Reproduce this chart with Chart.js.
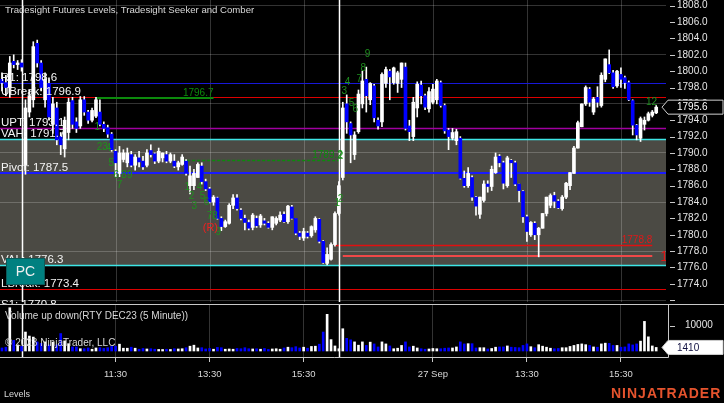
<!DOCTYPE html>
<html>
<head>
<meta charset="utf-8">
<script src="https://cdn.jsdelivr.net/npm/chart.js@4.4.0/dist/chart.umd.min.js"></script>
<style>
body { margin: 0; background: #000; width: 724px; height: 403px; overflow: hidden; position: relative; font-family: Arial, "Liberation Sans", sans-serif; }
#price { position: absolute; left: 0; top: 0; }
#vol { position: absolute; left: 0; top: 304px; }
.t { position: absolute; color: #d8d8d8; font-size: 10px; line-height: 12px; white-space: nowrap; }
#pc { position: absolute; left: 6px; top: 258px; width: 37px; height: 25px; background: #008080; border: 1px solid #0b5a5a; color: #f0f0f0; font-size: 14px; line-height: 25px; text-align: center; }
#logo { position: absolute; left: 611px; top: 385px; color: #e5532d; font-weight: bold; font-size: 14px; letter-spacing: 1px; white-space: nowrap; }
</style>
</head>
<body>
<canvas id="price" width="724" height="304"></canvas>
<canvas id="vol" width="724" height="99"></canvas>
<div class="t" style="left:5px;top:4px;font-size:9.6px">Tradesight Futures Levels, Tradesight Seeker and Comber</div>
<div class="t" style="left:5px;top:310px">Volume up down(RTY DEC23 (5 Minute))</div>
<div class="t" style="left:5px;top:337px">© 2023 NinjaTrader, LLC</div>
<div class="t" style="left:4px;top:388px;font-size:9px">Levels</div>
<div id="pc">PC</div>
<div id="logo">NINJATRADER</div>
<script>
// --- data -------------------------------------------------------------
const prevDayTimes = ['15:50', '15:55', '16:00', '16:05', '16:10', '16:15'];

const opens = [
    1799.0, 1798.6, 1798.0, 1801.2, 1800.8, 1801.0, 1788.5, 1795.0, 1796.5, 1803.4,
    1801.0, 1796.5, 1798.5, 1793.5, 1795.5, 1792.0, 1790.5, 1792.5, 1796.4, 1793.8,
    1793.3, 1796.5, 1795.0, 1794.0, 1794.5, 1795.0, 1793.5, 1793.1, 1792.3, 1790.2,
    1787.5, 1789.2, 1788.8, 1789.8, 1788.5, 1789.4, 1789.0, 1788.5, 1790.3, 1789.9,
    1789.0, 1789.4, 1789.8, 1789.0, 1789.0, 1788.3, 1788.6, 1789.0, 1786.0, 1786.0,
    1787.0, 1788.4, 1786.5, 1785.6, 1784.0, 1784.5, 1782.0, 1781.0, 1781.4, 1783.6,
    1784.5, 1783.0, 1782.0, 1781.5, 1780.9, 1782.0, 1781.2, 1781.7, 1781.4, 1780.9,
    1781.4, 1781.8, 1782.5, 1781.6, 1783.4, 1782.0, 1780.2, 1779.6, 1780.2, 1779.9,
    1780.6, 1781.9, 1779.2, 1776.5, 1777.0, 1778.8, 1782.6, 1787.0, 1796.0, 1793.6,
    1789.8, 1792.6, 1796.0, 1799.0, 1796.5, 1798.2, 1794.0, 1793.8, 1798.5, 1800.0,
    1798.6, 1798.5, 1799.0, 1800.5, 1793.3, 1792.0, 1795.5, 1798.3, 1797.0, 1795.4,
    1796.2, 1796.5, 1798.6, 1795.8, 1792.8, 1791.8, 1791.5, 1791.8, 1786.9, 1786.0,
    1787.0, 1784.6, 1782.5, 1784.2, 1786.2, 1785.9, 1787.6, 1789.6, 1788.8, 1786.0,
    1789.1, 1788.8, 1786.2, 1785.3, 1782.2, 1780.0, 1781.4, 1780.0, 1780.8, 1782.6,
    1783.6, 1784.8, 1784.1, 1783.2, 1784.6, 1786.0, 1787.5, 1790.6, 1793.2, 1796.0,
    1797.8, 1795.0, 1796.8, 1795.8, 1799.0, 1800.8, 1799.8, 1798.2, 1799.6, 1799.2,
    1798.6, 1796.4, 1793.4, 1791.8, 1793.5, 1794.0, 1794.6, 1794.9
];
const highs = [
    1799.8, 1799.5, 1801.8, 1802.0, 1801.3, 1801.4, 1796.5, 1797.7, 1803.6, 1803.8,
    1801.3, 1799.8, 1799.2, 1796.8, 1796.2, 1792.5, 1794.4, 1796.7, 1796.8, 1794.3,
    1796.9, 1796.9, 1795.2, 1795.5, 1796.8, 1796.5, 1793.8, 1793.4, 1792.5, 1790.4,
    1790.8, 1790.4, 1790.6, 1790.2, 1789.8, 1790.2, 1789.6, 1790.4, 1791.0, 1790.0,
    1790.6, 1790.0, 1790.2, 1790.0, 1789.8, 1789.0, 1789.8, 1789.2, 1788.4, 1788.0,
    1788.8, 1788.8, 1786.8, 1785.8, 1784.8, 1784.6, 1782.2, 1781.8, 1783.8, 1784.9,
    1784.9, 1783.2, 1782.4, 1781.8, 1782.6, 1782.3, 1782.5, 1782.0, 1781.6, 1782.2,
    1782.2, 1782.8, 1782.8, 1783.6, 1783.6, 1782.0, 1780.4, 1780.8, 1780.4, 1781.1,
    1782.2, 1782.0, 1779.3, 1778.4, 1779.0, 1782.8, 1786.5, 1796.2, 1797.1, 1793.8,
    1792.6, 1797.7, 1800.0, 1800.5, 1798.6, 1798.4, 1794.3, 1799.8, 1800.5, 1800.2,
    1800.5, 1800.0, 1801.0, 1801.0, 1794.0, 1796.8, 1798.7, 1798.8, 1797.2, 1798.0,
    1798.4, 1799.0, 1798.8, 1796.0, 1793.0, 1793.0, 1792.9, 1792.0, 1787.8, 1788.2,
    1787.2, 1784.7, 1784.6, 1786.6, 1786.6, 1788.4, 1790.0, 1789.8, 1789.0, 1789.6,
    1789.2, 1789.0, 1786.2, 1785.4, 1782.4, 1781.6, 1781.6, 1780.9, 1782.6, 1784.6,
    1785.0, 1785.2, 1784.3, 1784.8, 1786.4, 1787.6, 1790.8, 1793.9, 1796.0, 1798.2,
    1798.0, 1796.8, 1798.1, 1799.8, 1801.5, 1802.6, 1800.1, 1800.1, 1800.4, 1799.4,
    1798.8, 1796.5, 1793.5, 1794.4, 1794.4, 1795.0, 1795.2, 1795.8
];
const lows = [
    1797.6, 1797.0, 1796.8, 1800.4, 1800.2, 1800.0, 1787.4, 1794.4, 1795.6, 1800.5,
    1797.6, 1795.6, 1794.0, 1792.4, 1791.0, 1789.8, 1789.5, 1791.6, 1793.0, 1792.5,
    1793.0, 1794.6, 1793.6, 1793.8, 1794.3, 1793.3, 1792.6, 1791.9, 1790.2, 1787.1,
    1787.1, 1788.9, 1788.3, 1788.3, 1787.9, 1788.3, 1788.0, 1788.3, 1789.5, 1788.7,
    1788.8, 1788.9, 1788.8, 1788.8, 1788.2, 1787.9, 1788.5, 1787.3, 1785.0, 1785.5,
    1787.0, 1786.2, 1785.4, 1783.9, 1783.6, 1781.9, 1780.5, 1780.9, 1781.3, 1783.2,
    1783.0, 1781.8, 1780.6, 1780.6, 1780.6, 1780.9, 1780.9, 1781.2, 1780.8, 1780.6,
    1781.2, 1781.6, 1781.5, 1781.4, 1781.9, 1780.0, 1779.4, 1779.3, 1779.6, 1779.7,
    1780.3, 1779.0, 1776.5, 1776.3, 1776.9, 1778.6, 1782.4, 1786.7, 1792.4, 1788.8,
    1789.2, 1792.4, 1795.5, 1795.0, 1795.9, 1793.8, 1792.9, 1793.2, 1798.0, 1796.5,
    1798.4, 1797.4, 1798.0, 1792.8, 1791.5, 1791.5, 1794.4, 1796.0, 1795.3, 1795.0,
    1796.0, 1796.0, 1795.6, 1792.4, 1790.4, 1791.6, 1791.0, 1786.8, 1785.8, 1785.8,
    1784.2, 1782.4, 1782.0, 1784.0, 1785.2, 1785.4, 1787.5, 1788.3, 1785.6, 1785.8,
    1787.0, 1786.0, 1784.0, 1781.5, 1779.2, 1779.8, 1779.4, 1777.3, 1780.8, 1782.3,
    1783.3, 1783.3, 1783.2, 1783.0, 1784.4, 1785.5, 1787.5, 1790.6, 1793.2, 1795.8,
    1795.7, 1794.7, 1795.6, 1795.6, 1798.7, 1799.7, 1797.9, 1798.0, 1798.0, 1797.9,
    1796.4, 1792.2, 1791.6, 1791.4, 1792.8, 1793.9, 1794.4, 1794.8
];
const closes = [
    1798.6, 1798.0, 1801.0, 1800.8, 1801.0, 1800.5, 1795.5, 1797.0, 1803.0, 1801.0,
    1798.0, 1799.0, 1794.4, 1796.0, 1791.6, 1791.0, 1794.0, 1796.2, 1793.5, 1793.0,
    1796.5, 1795.0, 1794.0, 1795.2, 1796.5, 1793.5, 1793.0, 1792.3, 1790.4, 1788.8,
    1790.0, 1790.0, 1790.0, 1788.5, 1789.5, 1788.9, 1788.3, 1790.0, 1789.8, 1789.0,
    1790.2, 1790.0, 1789.0, 1789.8, 1788.4, 1788.8, 1789.5, 1787.5, 1787.2, 1787.5,
    1788.6, 1786.5, 1785.6, 1784.0, 1784.6, 1782.0, 1781.0, 1781.6, 1783.6, 1784.5,
    1783.2, 1782.0, 1781.5, 1780.8, 1782.4, 1781.1, 1782.3, 1781.4, 1780.9, 1782.2,
    1782.0, 1782.4, 1781.6, 1783.5, 1782.0, 1780.2, 1779.8, 1780.4, 1779.8, 1781.0,
    1782.0, 1779.2, 1776.6, 1777.6, 1778.8, 1782.6, 1786.0, 1795.5, 1793.8, 1792.2,
    1792.2, 1797.2, 1798.8, 1797.0, 1798.5, 1794.3, 1793.3, 1799.6, 1800.2, 1799.3,
    1800.4, 1799.8, 1801.0, 1793.0, 1792.6, 1796.2, 1798.4, 1797.0, 1795.6, 1797.5,
    1797.8, 1798.8, 1795.8, 1792.7, 1792.0, 1792.5, 1792.6, 1786.9, 1786.0, 1787.5,
    1784.6, 1783.5, 1784.6, 1786.2, 1785.9, 1788.0, 1789.5, 1788.8, 1786.3, 1789.4,
    1788.8, 1786.2, 1785.4, 1782.2, 1780.4, 1781.5, 1780.0, 1780.8, 1782.6, 1784.6,
    1784.8, 1784.1, 1783.3, 1784.6, 1786.3, 1787.6, 1790.6, 1793.7, 1796.0, 1798.0,
    1796.2, 1796.6, 1796.2, 1799.5, 1801.5, 1799.8, 1798.1, 1800.0, 1799.0, 1798.6,
    1796.5, 1793.4, 1792.2, 1794.2, 1794.0, 1794.8, 1795.0, 1795.6
];
const volumes = [
    1200, 1500, 17100, 4200, 2400, 1800, 7500, 5900, 5500, 3600,
    3000, 3600, 2400, 3500, 2400, 6900, 4000, 2900, 1600, 1600,
    900, 900, 1200, 700, 1200, 1300, 1000, 1300, 1800, 1900,
    2700, 1100, 1100, 1500, 1100, 700, 1000, 800, 900, 700,
    600, 600, 700, 600, 900, 800, 900, 1300, 1900, 2300,
    1200, 1300, 800, 1000, 700, 1400, 1300, 700, 800, 700,
    1000, 900, 1300, 900, 800, 900, 700, 1000, 600, 800,
    900, 700, 1200, 1500, 1300, 1700, 1200, 1500, 1100, 1800,
    1900, 2700, 7500, 14500, 4500, 2000, 900, 8800, 5000, 4400,
    3600, 2300, 3600, 2200, 3500, 2800, 1600, 3600, 2800, 2000,
    900, 1100, 2200, 3600, 1600, 1900, 1200, 900, 700, 800,
    1000, 900, 900, 1100, 1200, 1200, 1600, 3600, 2800, 2900,
    2900, 1200, 1300, 1300, 800, 1000, 1500, 1600, 1600, 2000,
    1500, 1400, 1300, 2200, 2800, 1700, 1300, 2500, 1900, 1500,
    1100, 900, 1000, 1300, 1300, 1800, 2200, 2600, 2800, 2500,
    2200, 1600, 1500, 2800, 3100, 3000, 2200, 2200, 1500, 1600,
    2800, 2400, 2800, 3900, 11700, 5600, 2000, 1410
];

// levels (Tradesight Futures Levels)
const levelNames = ['R1', 'UBreak', 'UPT', 'VAH', 'Pivot', 'VAL', 'LBreak', 'S1'];
const levelValues = [1798.6, 1796.9, 1793.1, 1791.7, 1787.5, 1776.3, 1773.4, 1770.8];

// seeker / comber levels: value, first bar, last bar
const seekerValues = [1796.7, 1789.2];
const seekerFrom = [24, 46];
const seekerTo = [54, 87];
const targetValues = [1778.8, 1777.4];
const targetFrom = [85, 87];
const targetTo = [166, 166];

// count numbers: bar index, price, text
const countIdx = [24.3, 25.6, 27.2, 27.9, 29.2, 31.9, 30, 47.3, 48.4, 49.1, 50.4, 51.2, 52.2, 53.7, 55.2,
    85.6, 86.4, 86.4, 87.4, 88.2, 89.2, 90.2, 91.2, 92.2, 93.3, 165.8];
const countPrice = [1793.2, 1790.7, 1790.6, 1788.8, 1787.3, 1787.3, 1786.0, 1785.8, 1784.7, 1783.5, 1785.8, 1784.7, 1784.0, 1782.3, 1780.3,
    1783.9, 1784.3, 1789.6, 1797.6, 1798.6, 1796.1, 1795.4, 1799.0, 1800.3, 1802.1, 1796.2];
const countText = ['1', '23', '4', '5', '6', '89', '7', '1', '2', '3', '4', '5', '6', '78', '9',
    '1', '2', '2', '3', '4', '5', '6', '7', '8', '9', '12'];

// axis ticks
const priceTicks = [1772, 1774, 1776, 1778, 1780, 1782, 1784, 1786, 1788, 1790, 1792, 1794, 1796, 1798, 1800, 1802, 1804, 1806, 1808];
const volTicks = [10000];
const timeTicks = ['26 Sep 11:30', '26 Sep 13:30', '26 Sep 15:30', '27 Sep 11:30', '27 Sep 13:30', '27 Sep 15:30'];
const timeTickText = ['11:30', '13:30', '15:30', '27 Sep', '13:30', '15:30'];

// --- categories ------------------------------------------------------
function sessionTimes() {
    const out = [];
    for (let m = 9 * 60 + 35; m <= 16 * 60 + 15; m += 5) {
        out.push(String(Math.floor(m / 60)).padStart(2, '0') + ':' + String(m % 60).padStart(2, '0'));
    }
    return out;
}
const categories = [
    ...prevDayTimes.map(t => '25 Sep ' + t),
    ...sessionTimes().map(t => '26 Sep ' + t),
    ...sessionTimes().map(t => '27 Sep ' + t),
    '', ''
];
const gridIdx = timeTicks.map(t => categories.indexOf(t));
const sessionIdx = [categories.indexOf('25 Sep 16:15'), categories.indexOf('26 Sep 16:15')];

// --- styles -----------------------------------------------------------
const gridCol = 'rgba(255,255,255,0.2)';
const zoneCol = '#4b4a44';
const levelColors = ['#1818d8', '#dd0000', '#a000a0', '#3ee6e6', '#1a1aff', '#3ee6e6', '#dd0000', '#c8c8c8'];
const levelWidths = [1, 1, 1.5, 1.5, 2, 1.5, 1, 1];
const countColor = '#1f8f1f';
const upColor = '#ffffff';
const downColor = '#0000ff';

const candleColor = closes.map((c, i) => c >= opens[i] ? upColor : downColor);

function hline(ctx, x1, x2, y, color, w, dash) {
    ctx.save();
    ctx.strokeStyle = color;
    ctx.lineWidth = w;
    ctx.setLineDash(dash || []);
    const yy = (w === 1 || w === 1.5) ? Math.round(y) + 0.5 : Math.round(y);
    ctx.beginPath();
    ctx.moveTo(x1, yy);
    ctx.lineTo(x2, yy);
    ctx.stroke();
    ctx.restore();
}

function vline(ctx, x, y1, y2, color, w) {
    ctx.save();
    ctx.strokeStyle = color;
    ctx.lineWidth = w;
    const xx = Math.round(x) + 0.5;
    ctx.beginPath();
    ctx.moveTo(xx, y1);
    ctx.lineTo(xx, y2);
    ctx.stroke();
    ctx.restore();
}

function valueBox(chart, y, text, fill, stroke, color) {
    const ctx = chart.ctx, a = chart.chartArea;
    const tip = a.right - 4, l = a.right + 2, r = chart.width - 1, h = 7;
    ctx.save();
    ctx.beginPath();
    ctx.moveTo(tip, y);
    ctx.lineTo(l, y - h);
    ctx.lineTo(r, y - h);
    ctx.lineTo(r, y + h);
    ctx.lineTo(l, y + h);
    ctx.closePath();
    ctx.fillStyle = fill;
    ctx.fill();
    ctx.strokeStyle = stroke;
    ctx.lineWidth = 1;
    ctx.stroke();
    ctx.fillStyle = color;
    ctx.font = '10px Arial';
    ctx.textBaseline = 'middle';
    ctx.textAlign = 'left';
    ctx.fillText(text, a.right + 11, y + 0.5);
    ctx.restore();
}

// --- price panel ------------------------------------------------------
const priceDecor = {
    id: 'priceDecor',
    beforeDraw(chart) {
        const { ctx, chartArea: a, scales: { x, y } } = chart;
        ctx.save();
        ctx.fillStyle = '#000';
        ctx.fillRect(0, 0, chart.width, chart.height);
        const yTop = y.getPixelForValue(levelValues[3]);
        const yBot = y.getPixelForValue(levelValues[5]);
        ctx.fillStyle = zoneCol;
        ctx.fillRect(a.left, yTop, a.right - a.left, yBot - yTop);
        gridIdx.forEach(i => vline(ctx, x.getPixelForValue(i), a.top, a.bottom, gridCol, 1));
        ctx.restore();
    },
    beforeDatasetsDraw(chart) {
        const { ctx, chartArea: a, scales: { x, y } } = chart;
        ctx.save();
        ctx.beginPath();
        ctx.rect(a.left, a.top, a.right - a.left, a.bottom - a.top);
        ctx.clip();
        levelValues.forEach((v, k) => hline(ctx, a.left, a.right, y.getPixelForValue(v), levelColors[k], levelWidths[k]));
        hline(ctx, x.getPixelForValue(seekerFrom[0]), x.getPixelForValue(seekerTo[0]), y.getPixelForValue(seekerValues[0]), '#0c8a0c', 2);
        hline(ctx, x.getPixelForValue(seekerFrom[1]), x.getPixelForValue(seekerTo[1]), y.getPixelForValue(seekerValues[1]), '#0c8a0c', 1.5, [3, 2]);
        hline(ctx, x.getPixelForValue(targetFrom[0]), x.getPixelForValue(targetTo[0]), y.getPixelForValue(targetValues[0]), '#e01010', 1.5);
        hline(ctx, x.getPixelForValue(targetFrom[1]), x.getPixelForValue(targetTo[1]), y.getPixelForValue(targetValues[1]), '#f04848', 2);
        sessionIdx.forEach(i => vline(ctx, x.getPixelForValue(i), a.top, a.bottom, '#ffffff', 1.5));
        ctx.restore();
    },
    afterDatasetsDraw(chart) {
        const { ctx, chartArea: a, scales: { x, y } } = chart;
        ctx.save();
        ctx.beginPath();
        ctx.rect(a.left, a.top, a.right - a.left, chart.height);
        ctx.clip();
        // level names on the left
        ctx.font = '11.5px Arial';
        ctx.fillStyle = '#f4f4f4';
        ctx.textAlign = 'left';
        ctx.textBaseline = 'alphabetic';
        levelNames.forEach((n, k) => {
            ctx.fillText(n + ': ' + levelValues[k].toFixed(1), a.left + 1, y.getPixelForValue(levelValues[k]) - 2);
        });
        // seeker / target values
        ctx.font = '10px Arial';
        ctx.textAlign = 'right';
        ctx.fillStyle = '#0c8a0c';
        seekerValues.forEach((v, k) => ctx.fillText(v.toFixed(1), x.getPixelForValue(seekerTo[k]), y.getPixelForValue(v) - 2));
        ctx.fillStyle = '#e01818';
        ctx.fillText(targetValues[0].toFixed(1), x.getPixelForValue(targetTo[0]), y.getPixelForValue(targetValues[0]) - 2);
        ctx.font = '14px Arial';
        ctx.textAlign = 'left';
        ctx.textBaseline = 'middle';
        ctx.fillStyle = '#e01818';
        ctx.fillText(targetValues[1].toFixed(1), x.getPixelForValue(targetTo[1]) + 8, y.getPixelForValue(targetValues[1]) + 1.5);
        // counts
        ctx.font = '10px Arial';
        ctx.textAlign = 'center';
        ctx.fillStyle = countColor;
        countIdx.forEach((ix, k) => ctx.fillText(countText[k], x.getPixelForValue(ix), y.getPixelForValue(countPrice[k])));
        ctx.fillStyle = '#ee2020';
        ctx.font = '11px Arial';
        ctx.fillText('(R)', x.getPixelForValue(53.2), y.getPixelForValue(1780.8));
        ctx.restore();
    },
    afterDraw(chart) {
        const { ctx, chartArea: a, scales: { y } } = chart;
        ctx.save();
        ctx.strokeStyle = '#c8c8c8';
        ctx.lineWidth = 1;
        priceTicks.forEach(v => {
            const py = Math.round(y.getPixelForValue(v)) + 0.5;
            ctx.beginPath();
            ctx.moveTo(a.right + 4, py);
            ctx.lineTo(a.right + 9, py);
            ctx.stroke();
        });
        ctx.restore();
        const last = closes[closes.length - 1];
        valueBox(chart, y.getPixelForValue(last), last.toFixed(1), '#000000', '#d0d0d0', '#ffffff');
    }
};

new Chart(document.getElementById('price'), {
    type: 'bar',
    data: {
        labels: categories,
        datasets: [
            {
                data: opens.map((o, i) => {
                    let lo = Math.min(o, closes[i]), hi = Math.max(o, closes[i]);
                    if (hi - lo < 0.12) { lo -= 0.06; hi += 0.06; }
                    return [lo, hi];
                }),
                backgroundColor: candleColor,
                barThickness: 3,
                grouped: false,
                order: 0
            },
            {
                data: lows.map((l, i) => [l, highs[i]]),
                backgroundColor: '#ffffff',
                barThickness: 1,
                grouped: false,
                order: 1
            }
        ]
    },
    options: {
        responsive: false,
        animation: false,
        events: [],
        layout: { padding: { left: 0, right: 0, top: 0, bottom: 2 } },
        plugins: { legend: { display: false }, tooltip: { enabled: false } },
        scales: {
            x: { display: false, offset: true },
            y: {
                position: 'right',
                min: 1771.78,
                max: 1808.7,
                border: { display: false },
                grid: {
                    drawTicks: false,
                    color: c => (c.tick && (c.tick.value - 1772) % 6 === 0) ? gridCol : 'transparent'
                },
                ticks: {
                    autoSkip: false,
                    padding: 11,
                    color: '#e6e6e6',
                    font: { family: 'Arial', size: 10 },
                    callback: v => v === 1772 ? '' : v.toFixed(1)
                },
                afterBuildTicks: s => { s.ticks = priceTicks.map(v => ({ value: v })); },
                afterFit: s => { s.width = 58; s.paddingTop = 0; s.paddingBottom = 0; }
            }
        }
    },
    plugins: [priceDecor]
});

// --- volume panel -----------------------------------------------------
const volDecor = {
    id: 'volDecor',
    beforeDatasetsDraw(chart) {
        const { ctx, chartArea: a, scales: { x } } = chart;
        sessionIdx.forEach(i => vline(ctx, x.getPixelForValue(i), a.top, a.bottom, '#ffffff', 1.5));
    },
    afterDraw(chart) {
        const { ctx, chartArea: a, scales: { y } } = chart;
        ctx.save();
        ctx.strokeStyle = '#c8c8c8';
        ctx.lineWidth = 1;
        ctx.beginPath();
        ctx.moveTo(0, 0.5);
        ctx.lineTo(chart.width, 0.5);
        ctx.moveTo(0, Math.round(a.bottom) + 0.5);
        ctx.lineTo(a.right + 2.5, Math.round(a.bottom) + 0.5);
        ctx.moveTo(a.right + 2.5, 0);
        ctx.lineTo(a.right + 2.5, Math.round(a.bottom) + 0.5);
        volTicks.forEach(v => {
            const py = Math.round(y.getPixelForValue(v)) + 0.5;
            ctx.moveTo(a.right + 4, py);
            ctx.lineTo(a.right + 9, py);
        });
        ctx.stroke();
        ctx.restore();
        const last = volumes[volumes.length - 1];
        valueBox(chart, y.getPixelForValue(last), String(last), '#ffffff', '#d0d0d0', '#101040');
    }
};

new Chart(document.getElementById('vol'), {
    type: 'bar',
    data: {
        labels: categories,
        datasets: [{
            data: volumes,
            backgroundColor: candleColor,
            barThickness: 2
        }]
    },
    options: {
        responsive: false,
        animation: false,
        events: [],
        layout: { padding: { left: 0, right: 0, top: 1, bottom: 0 } },
        plugins: { legend: { display: false }, tooltip: { enabled: false } },
        scales: {
            x: {
                offset: true,
                border: { display: false },
                grid: {
                    offset: false,
                    tickLength: 5,
                    color: c => gridIdx.includes(c.index) ? gridCol : 'transparent',
                    tickColor: c => gridIdx.includes(c.index) ? '#c8c8c8' : 'transparent'
                },
                ticks: {
                    autoSkip: false,
                    maxRotation: 0,
                    padding: 7,
                    color: '#d8d8d8',
                    font: { family: 'Arial', size: 9.5 },
                    callback: (v, i) => {
                        const k = gridIdx.indexOf(i);
                        return k < 0 ? '' : timeTickText[k];
                    }
                },
                afterFit: s => { s.height = 46; s.paddingLeft = 0; s.paddingRight = 0; }
            },
            y: {
                position: 'right',
                min: -2370,
                max: 18180,
                border: { display: false },
                grid: { display: false },
                ticks: {
                    padding: 11,
                    color: '#e6e6e6',
                    font: { family: 'Arial', size: 10 },
                    callback: v => String(v)
                },
                afterBuildTicks: s => { s.ticks = volTicks.map(v => ({ value: v })); },
                afterFit: s => { s.width = 58; s.paddingTop = 0; s.paddingBottom = 0; }
            }
        }
    },
    plugins: [volDecor]
});
</script>
</body>
</html>
